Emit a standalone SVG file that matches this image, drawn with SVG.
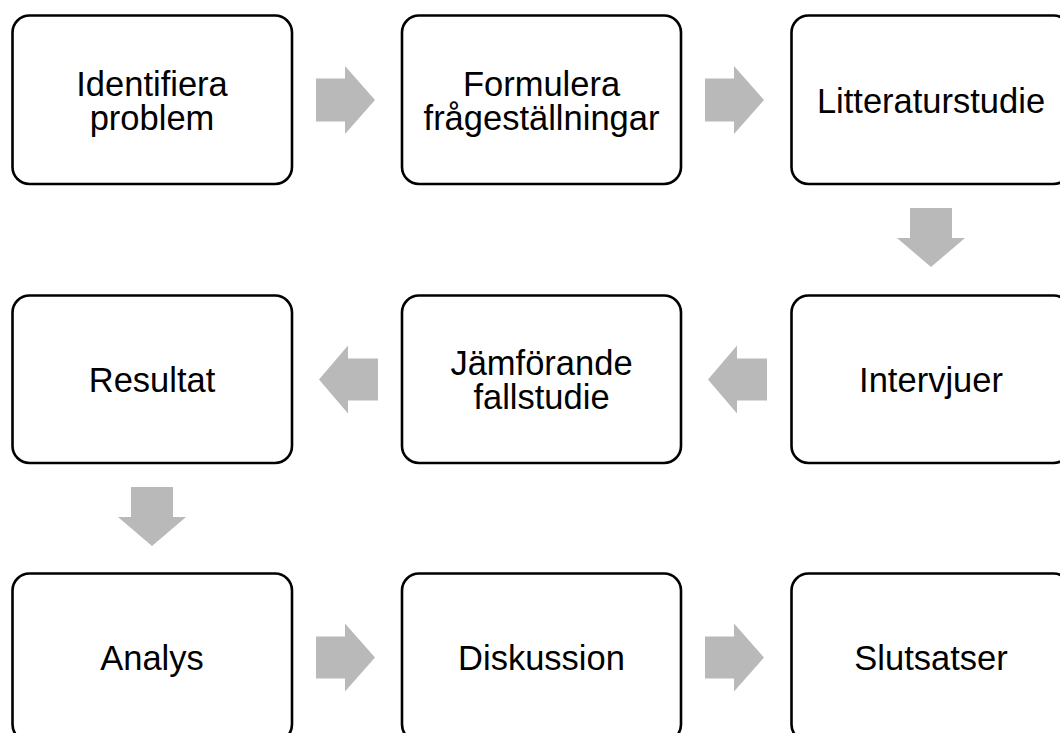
<svg xmlns="http://www.w3.org/2000/svg" width="1060" height="733" viewBox="0 0 1060 733">
<style>
.box{fill:#ffffff;stroke:#000000;stroke-width:2.6}
.lbl{font-family:"Liberation Sans",Arial,sans-serif;font-size:34.5px;fill:#000000;text-anchor:middle}
.arr{fill:#b9b9b9;stroke:none}
</style>
<rect width="1060" height="733" fill="#ffffff"/>
<g id="connectors">
<polygon class="arr" points="316,78.5 345,78.5 345,66 375,100 345,134 345,121.5 316,121.5"/>
<polygon class="arr" points="705,78.5 734,78.5 734,66 764,100 734,134 734,121.5 705,121.5"/>
<polygon class="arr" points="910,208 952,208 952,238 965,238 931,267 897,238 910,238"/>
<polygon class="arr" points="767,358.5 737,358.5 737,345.5 708,379.5 737,413.5 737,400.5 767,400.5"/>
<polygon class="arr" points="378,358.5 348,358.5 348,345.5 319,379.5 348,413.5 348,400.5 378,400.5"/>
<polygon class="arr" points="131,487 173,487 173,517 186,517 152,546 118,517 131,517"/>
<polygon class="arr" points="316,636.5 345,636.5 345,623.5 375,657.5 345,691.5 345,678.5 316,678.5"/>
<polygon class="arr" points="705,636.5 734,636.5 734,623.5 764,657.5 734,691.5 734,678.5 705,678.5"/>
</g>
<g id="n1"><rect class="box" x="12.5" y="15.5" width="279.5" height="168.5" rx="17"/><text class="lbl" x="152" y="95.5">Identifiera</text><text class="lbl" x="152" y="129.5">problem</text></g>
<g id="n2"><rect class="box" x="402" y="15.5" width="279" height="168.5" rx="17"/><text class="lbl" x="541.5" y="95.5">Formulera</text><text class="lbl" x="541.5" y="129.5">frågeställningar</text></g>
<g id="n3"><rect class="box" x="791.5" y="15.5" width="279" height="168.5" rx="17"/><text class="lbl" x="931" y="112.5">Litteraturstudie</text></g>
<g id="n4"><rect class="box" x="791.5" y="295.5" width="279" height="167.5" rx="17"/><text class="lbl" x="931" y="392">Intervjuer</text></g>
<g id="n5"><rect class="box" x="402" y="295.5" width="279" height="167.5" rx="17"/><text class="lbl" x="541.5" y="375">Jämförande</text><text class="lbl" x="541.5" y="409">fallstudie</text></g>
<g id="n6"><rect class="box" x="12.5" y="295.5" width="279.5" height="167.5" rx="17"/><text class="lbl" x="152" y="392">Resultat</text></g>
<g id="n7"><rect class="box" x="12.5" y="573.5" width="279.5" height="168" rx="17"/><text class="lbl" x="152" y="670">Analys</text></g>
<g id="n8"><rect class="box" x="402" y="573.5" width="279" height="168" rx="17"/><text class="lbl" x="541.5" y="670">Diskussion</text></g>
<g id="n9"><rect class="box" x="791.5" y="573.5" width="279" height="168" rx="17"/><text class="lbl" x="931" y="670">Slutsatser</text></g>
</svg>
